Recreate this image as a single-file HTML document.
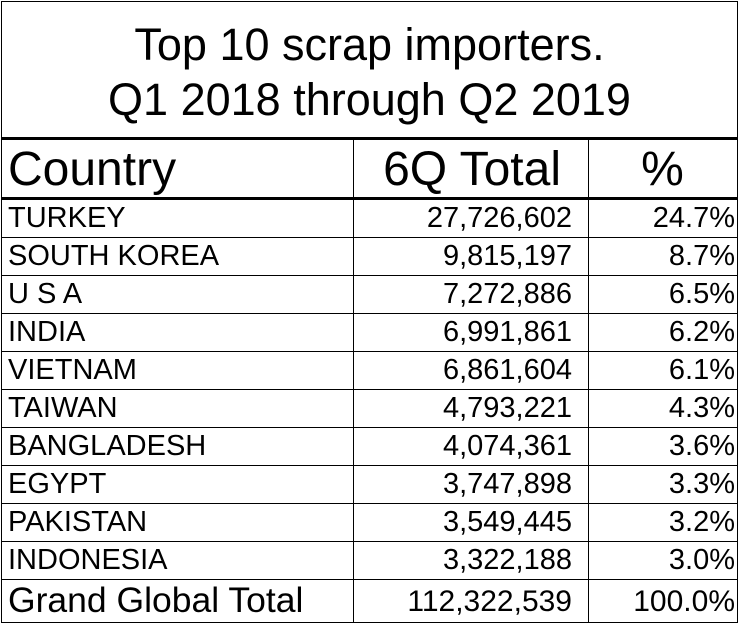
<!DOCTYPE html>
<html><head><meta charset="utf-8"><style>
body{margin:0;background:#fff;width:739px;height:624px;overflow:hidden;font-family:"Liberation Sans",Arial,sans-serif;}
#frame{position:absolute;left:1px;top:1px;width:735px;height:620px;border:1px solid #000;box-sizing:content-box;}
.title{position:absolute;left:0;width:735px;text-align:center;font-size:45px;line-height:52px;}
.hl{position:absolute;left:0;width:735px;background:#000;}
.vl{position:absolute;width:1px;background:#000;}
.cell{position:absolute;white-space:nowrap;}
</style></head><body>
<div id="frame">
<div class="title" style="top:17px">Top 10 scrap importers.</div>
<div class="title" style="top:72px">Q1 2018 through Q2 2019</div>
<div class="hl" style="top:135px;height:3px"></div>
<div class="hl" style="top:195px;height:3px"></div>
<div class="vl" style="left:351px;top:137px;height:484px"></div>
<div class="vl" style="left:586px;top:137px;height:484px"></div>
<div class="cell" style="left:6px;top:141px;font-size:48px;line-height:54px">Country</div>
<div class="cell" style="left:351px;width:208px;text-align:right;top:141px;font-size:48px;line-height:54px">6Q Total</div>
<div class="cell" style="left:586px;width:149px;text-align:center;top:141px;font-size:48px;line-height:54px">%</div>
<div id="rows"></div>
</div>
<script>
const countries=["TURKEY","SOUTH KOREA","U S A","INDIA","VIETNAM","TAIWAN","BANGLADESH","EGYPT","PAKISTAN","INDONESIA"];
const totals=["27,726,602","9,815,197","7,272,886","6,991,861","6,861,604","4,793,221","4,074,361","3,747,898","3,549,445","3,322,188"];
const percents=["24.7%","8.7%","6.5%","6.2%","6.1%","4.3%","3.6%","3.3%","3.2%","3.0%"];
const grand=["Grand Global Total","112,322,539","100.0%"];
const rows=document.getElementById('rows');
const rowH=38,top0=197;
function cell(txt,style){const d=document.createElement('div');d.className='cell';d.style.cssText=style;d.textContent=txt;rows.appendChild(d);return d;}
countries.forEach((c,i)=>{
  const y=top0+i*rowH;
  const a=cell(c,`left:6px;top:${y+2}px;font-size:29px;line-height:34px`);
  
  
  const b=cell(totals[i],`left:351px;width:219px;text-align:right;top:${y+2}px;font-size:29px;line-height:34px`);
  
  
  const p=cell(percents[i],`left:586px;width:147px;text-align:right;top:${y+2}px;font-size:29px;line-height:34px`);
  
  
  const l=document.createElement('div');l.className='hl';l.style.cssText=`top:${y+rowH}px;height:1px`;
  
  
  rows.appendChild(l);
});
const gy=top0+10*rowH;
const g1=cell(grand[0],`left:6px;top:${gy+1}px;font-size:35.5px;line-height:40px`);


const g2=cell(grand[1],`left:351px;width:219px;text-align:right;top:${gy+5}px;font-size:30px;line-height:36px`);


const g3=cell(grand[2],`left:586px;width:147px;text-align:right;top:${gy+5}px;font-size:30px;line-height:36px`);


</script>
</body></html>
